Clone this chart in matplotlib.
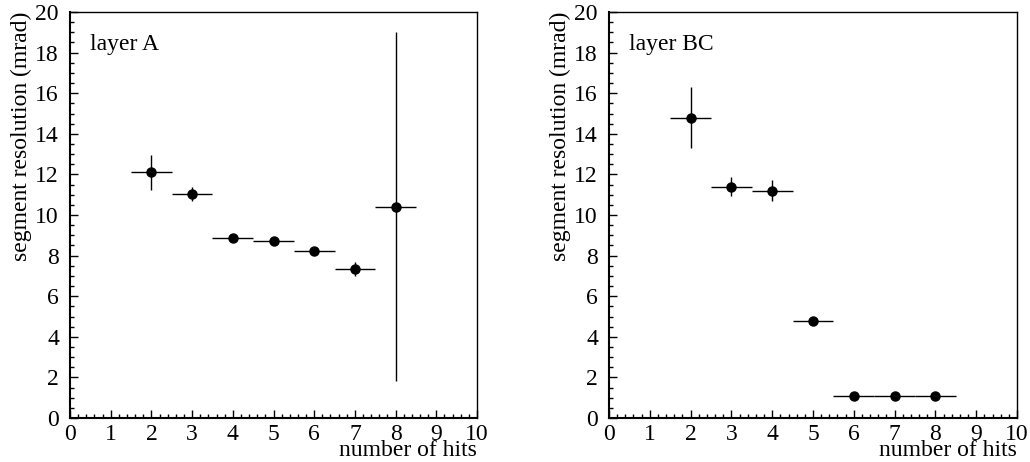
import matplotlib
matplotlib.use("Agg")
import matplotlib.pyplot as plt
from matplotlib.ticker import MultipleLocator

plt.rcParams['font.family'] = ['Liberation Serif', 'DejaVu Serif']

hits = [2, 3, 4, 5, 6, 7, 8]
res_A = [12.1, 11.05, 8.85, 8.7, 8.25, 7.35, 10.4]
err_A = [0.85, 0.35, 0.1, 0.1, 0.1, 0.35, 8.6]
res_BC = [14.8, 11.4, 11.2, 4.8, 1.1, 1.1, 1.1]
err_BC = [1.5, 0.45, 0.5, 0.05, 0.05, 0.05, 0.05]
xerr = [0.5] * 7
labels = ["layer A", "layer BC"]

fig = plt.figure(figsize=(10.30, 4.62), dpi=100)
axes = [fig.add_axes([70/1030, 1-418/462, 407/1030, 406/462]),
        fig.add_axes([609/1030, 1-418/462, 408/1030, 406/462])]

for ax, y, ye, lab in zip(axes, [res_A, res_BC], [err_A, err_BC], labels):
    ax.errorbar(hits, y, xerr=xerr, yerr=ye, fmt='o', color='black',
                ms=6.5, elinewidth=1.0, capsize=0)
    ax.set_xlim(0, 10)
    ax.set_ylim(0, 20)
    ax.xaxis.set_major_locator(MultipleLocator(1))
    ax.xaxis.set_minor_locator(MultipleLocator(0.2))
    ax.yaxis.set_major_locator(MultipleLocator(2))
    ax.yaxis.set_minor_locator(MultipleLocator(0.5))
    ax.tick_params(which='both', direction='in', top=False, right=False,
                   labelsize=17, width=1)
    ax.tick_params(axis='x', which='major', length=6, pad=4)
    ax.tick_params(axis='y', which='major', length=6, pad=8)
    ax.tick_params(which='minor', length=3)
    for s in ax.spines.values():
        s.set_linewidth(1.0)
    ax.spines['left'].set_linewidth(1.5)
    ax.spines['bottom'].set_linewidth(1.5)
    ax.set_xlabel("number of hits", fontsize=17, loc='right', labelpad=-3)
    ax.set_ylabel("segment resolution (mrad)", fontsize=17, loc='top', labelpad=2)
    ax.text(0.5, 18.4, lab, fontsize=17, va='center', ha='left')

fig.savefig("out.png", dpi=100)
